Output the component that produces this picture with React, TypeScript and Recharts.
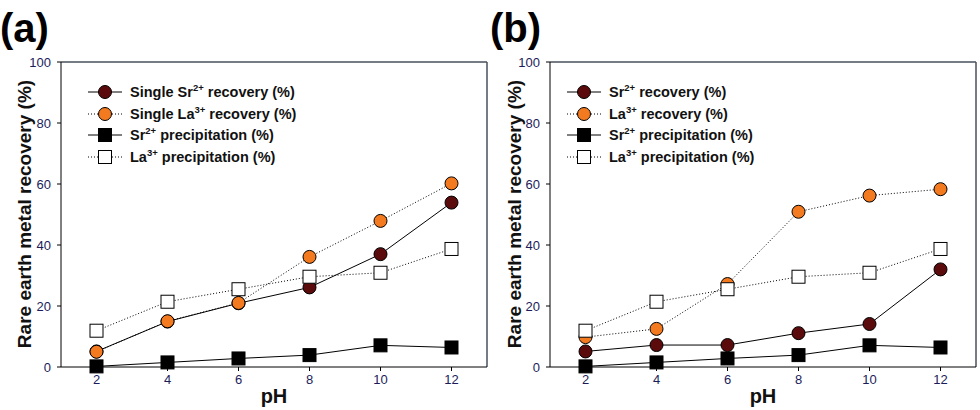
import React from "react";
import { LineChart, Line, XAxis, YAxis, ReferenceLine } from "recharts";

const phValues = [2, 4, 6, 8, 10, 12];
const yTicks = [0, 20, 40, 60, 80, 100];

// panel (a): single-ion runs
const singleSrRecovery = [5.1, 14.9, 20.9, 26.1, 37, 53.9];
const singleLaRecovery = [5, 15, 21, 36.1, 47.9, 60.2];
// panel (b): mixed runs
const mixSrRecovery = [5.1, 7.2, 7.2, 11.1, 14.1, 32];
const mixLaRecovery = [9.8, 12.5, 27.2, 50.9, 56.2, 58.3];
// precipitation, shared by both panels
const srPrecipitation = [0.2, 1.5, 2.8, 3.9, 7.1, 6.4];
const laPrecipitation = [11.9, 21.4, 25.5, 29.6, 30.9, 38.7];

const MAROON = "#5b0b0b";
const ORANGE = "#f47a1f";
const NAVY = "#1c1c5a";
const FRAME = "#48505a";
const FONT = "Arial, 'Liberation Sans', sans-serif";

type Row = { ph: number; srRec: number; laRec: number; srPre: number; laPre: number };

function buildRows(sr: number[], la: number[]): Row[] {
  return phValues.map((ph, i) => ({
    ph,
    srRec: sr[i],
    laRec: la[i],
    srPre: srPrecipitation[i],
    laPre: laPrecipitation[i],
  }));
}

const squareDot = (fill: string) => (p: any) => {
  if (p.cx == null || p.cy == null) return <g key={p.key ?? p.index} />;
  return (
    <rect
      key={p.key ?? `sq-${p.index}`}
      x={p.cx - 6.5}
      y={p.cy - 6.5}
      width={13}
      height={13}
      fill={fill}
      stroke="#000"
      strokeWidth={1}
    />
  );
};

type LegendItem = { ion: string; sup: string; rest: string; prefix?: string; dashed: boolean; shape: "circle" | "square"; fill: string };

function LegendIcon({ item }: { item: LegendItem }) {
  return (
    <svg width={34} height={16} style={{ display: "block", flex: "none" }}>
      <line x1={0} x2={34} y1={8} y2={8} stroke="#000" strokeWidth={1} strokeDasharray={item.dashed ? "1 2" : undefined} />
      {item.shape === "circle" ? (
        <circle cx={17} cy={8} r={6.5} fill={item.fill} stroke="#000" strokeWidth={1} />
      ) : (
        <rect x={10.5} y={1.5} width={13} height={13} fill={item.fill} stroke="#000" strokeWidth={1} />
      )}
    </svg>
  );
}

function LegendBox({ items, left, top }: { items: LegendItem[]; left: number; top: number }) {
  return (
    <div
      style={{
        position: "absolute",
        left,
        top,
        fontFamily: FONT,
        fontWeight: "bold",
        fontSize: 14.5,
        color: "#111",
      }}
    >
      {items.map((it, i) => (
        <div key={i} style={{ display: "flex", alignItems: "center", height: 21.7 }}>
          <LegendIcon item={it} />
          <span style={{ marginLeft: 8, whiteSpace: "nowrap" }}>
            {it.prefix}
            {it.ion}
            <sup style={{ fontSize: 9.5, verticalAlign: "6px", lineHeight: 0 }}>{it.sup}</sup> {it.rest}
          </span>
        </div>
      ))}
    </div>
  );
}

function Panel({
  tag,
  rows,
  legend,
  legendLeft,
  margin,
}: {
  tag: string;
  rows: Row[];
  legend: LegendItem[];
  legendLeft: number;
  margin: { top: number; right: number; bottom: number; left: number };
}) {
  const plotLeft = margin.left + 61;
  return (
    <div style={{ position: "relative", width: 490, height: 410 }}>
      <LineChart width={490} height={410} data={rows} margin={margin}>
        <XAxis
          dataKey="ph"
          type="number"
          domain={[1, 13]}
          ticks={phValues}
          tickSize={4}
          tickMargin={4}
          height={43}
          stroke="#000"
          tick={{ fill: NAVY, fontSize: 13, fontFamily: FONT }}
        />
        <YAxis
          type="number"
          domain={[0, 100]}
          ticks={yTicks}
          tickSize={4}
          tickMargin={6}
          width={61}
          stroke="#000"
          tick={{ fill: NAVY, fontSize: 13, fontFamily: FONT }}
        />
        <ReferenceLine y={100} stroke={FRAME} strokeWidth={1.5} />
        <ReferenceLine x={13} stroke={FRAME} strokeWidth={1.5} />
        <Line
          dataKey="srRec"
          stroke="#000"
          strokeWidth={1}
          dot={{ r: 6.5, fill: MAROON, stroke: "#000", strokeWidth: 1 }}
          isAnimationActive={false}
        />
        <Line
          dataKey="laRec"
          stroke="#000"
          strokeWidth={1}
          strokeDasharray="1 2"
          dot={{ r: 6.5, fill: ORANGE, stroke: "#000", strokeWidth: 1, strokeDasharray: "" }}
          isAnimationActive={false}
        />
        <Line dataKey="srPre" stroke="#000" strokeWidth={1} dot={squareDot("#000")} isAnimationActive={false} />
        <Line
          dataKey="laPre"
          stroke="#000"
          strokeWidth={1}
          strokeDasharray="1 2"
          dot={squareDot("#fff")}
          isAnimationActive={false}
        />
      </LineChart>
      <LegendBox items={legend} left={legendLeft} top={81} />
      <div
        style={{
          position: "absolute",
          left: 0,
          top: 0,
          fontFamily: FONT,
          fontWeight: "bold",
          fontSize: 40,
          lineHeight: "56px",
          color: "#000",
        }}
      >
        {tag}
      </div>
      <div
        style={{
          position: "absolute",
          left: plotLeft,
          width: 490 - plotLeft - margin.right,
          top: 383,
          textAlign: "center",
          fontFamily: FONT,
          fontWeight: "bold",
          fontSize: 20,
          lineHeight: "26px",
          color: "#111",
        }}
      >
        pH
      </div>
      <div
        style={{
          position: "absolute",
          left: 25,
          top: 214,
          transform: "translate(-50%, -50%) rotate(-90deg)",
          whiteSpace: "nowrap",
          fontFamily: FONT,
          fontWeight: "bold",
          fontSize: 19,
          lineHeight: "20px",
          color: "#111",
        }}
      >
        Rare earth metal recovery (%)
      </div>
    </div>
  );
}

const legendA: LegendItem[] = [
  { prefix: "Single ", ion: "Sr", sup: "2+", rest: "recovery (%)", dashed: false, shape: "circle", fill: MAROON },
  { prefix: "Single ", ion: "La", sup: "3+", rest: "recovery (%)", dashed: true, shape: "circle", fill: ORANGE },
  { ion: "Sr", sup: "2+", rest: "precipitation (%)", dashed: false, shape: "square", fill: "#000" },
  { ion: "La", sup: "3+", rest: "precipitation (%)", dashed: true, shape: "square", fill: "#fff" },
];

const legendB: LegendItem[] = [
  { ion: "Sr", sup: "2+", rest: "recovery (%)", dashed: false, shape: "circle", fill: MAROON },
  { ion: "La", sup: "3+", rest: "recovery (%)", dashed: true, shape: "circle", fill: ORANGE },
  { ion: "Sr", sup: "2+", rest: "precipitation (%)", dashed: false, shape: "square", fill: "#000" },
  { ion: "La", sup: "3+", rest: "precipitation (%)", dashed: true, shape: "square", fill: "#fff" },
];

export default function App() {
  return (
    <div style={{ position: "absolute", left: 0, top: 0, width: 980, height: 410, background: "#fff", display: "flex" }}>
      <Panel
        tag="(a)"
        rows={buildRows(singleSrRecovery, singleLaRecovery)}
        legend={legendA}
        legendLeft={88}
        margin={{ top: 62, right: 3, bottom: 0, left: 0 }}
      />
      <Panel
        tag="(b)"
        rows={buildRows(mixSrRecovery, mixLaRecovery)}
        legend={legendB}
        legendLeft={77}
        margin={{ top: 62, right: 4, bottom: 0, left: -1 }}
      />
    </div>
  );
}
